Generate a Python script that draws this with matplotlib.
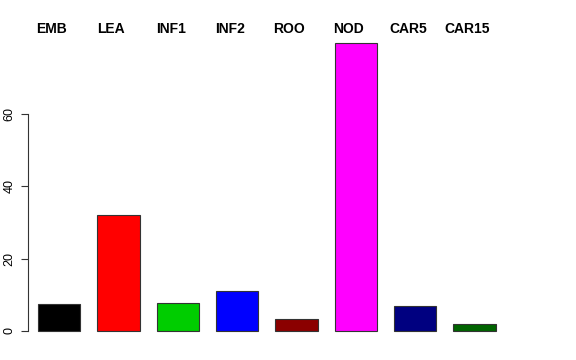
import matplotlib
matplotlib.use("Agg")
import matplotlib.pyplot as plt
import numpy as np

categories = ["EMB", "LEA", "INF1", "INF2", "ROO", "NOD", "CAR5", "CAR15"]
values = [7.5, 32.1, 7.8, 11.1, 3.2, 79.6, 7.0, 1.9]
colors = ["black", "red", "#00CD00", "blue", "#8B0000", "magenta", "#000080", "#006400"]
yticks = [0, 20, 40, 60]

plt.rcParams['font.family'] = ['Liberation Sans', 'DejaVu Sans']

fig = plt.figure(figsize=(5.76, 3.6), dpi=100)
# axes placed so the data maps like the R device
ax = fig.add_axes([28 / 576, 1 - 342.5 / 360, (555 - 28) / 576, (342.5 - 31.6) / 360])

# R barplot style: width 1, space 0.4
x = 0.9 + 1.4 * np.arange(len(values))
ax.bar(x, values, width=1.0, color=colors, edgecolor="#333333", linewidth=0.8)

ax.set_xlim(0.164, 12.6)
ax.set_ylim(-3.18, 82.78)

for s in ["top", "right", "bottom"]:
    ax.spines[s].set_visible(False)
ax.spines['left'].set_bounds(0, 60)
ax.spines['left'].set_color("#333333")
ax.spines['left'].set_linewidth(0.8)

ax.set_xticks([])
ax.set_yticks(yticks)
ax.set_yticklabels([str(t) for t in yticks], rotation=90, va="center", fontsize=9)
ax.tick_params(axis="y", length=5, width=0.8, color="#333333", pad=4)

for xi, name in zip(x, categories):
    ax.text(xi - 0.17, 83.5, name, ha="center", va="center", fontsize=10,
            fontweight="bold", clip_on=False)

fig.savefig("out.png", dpi=100)
